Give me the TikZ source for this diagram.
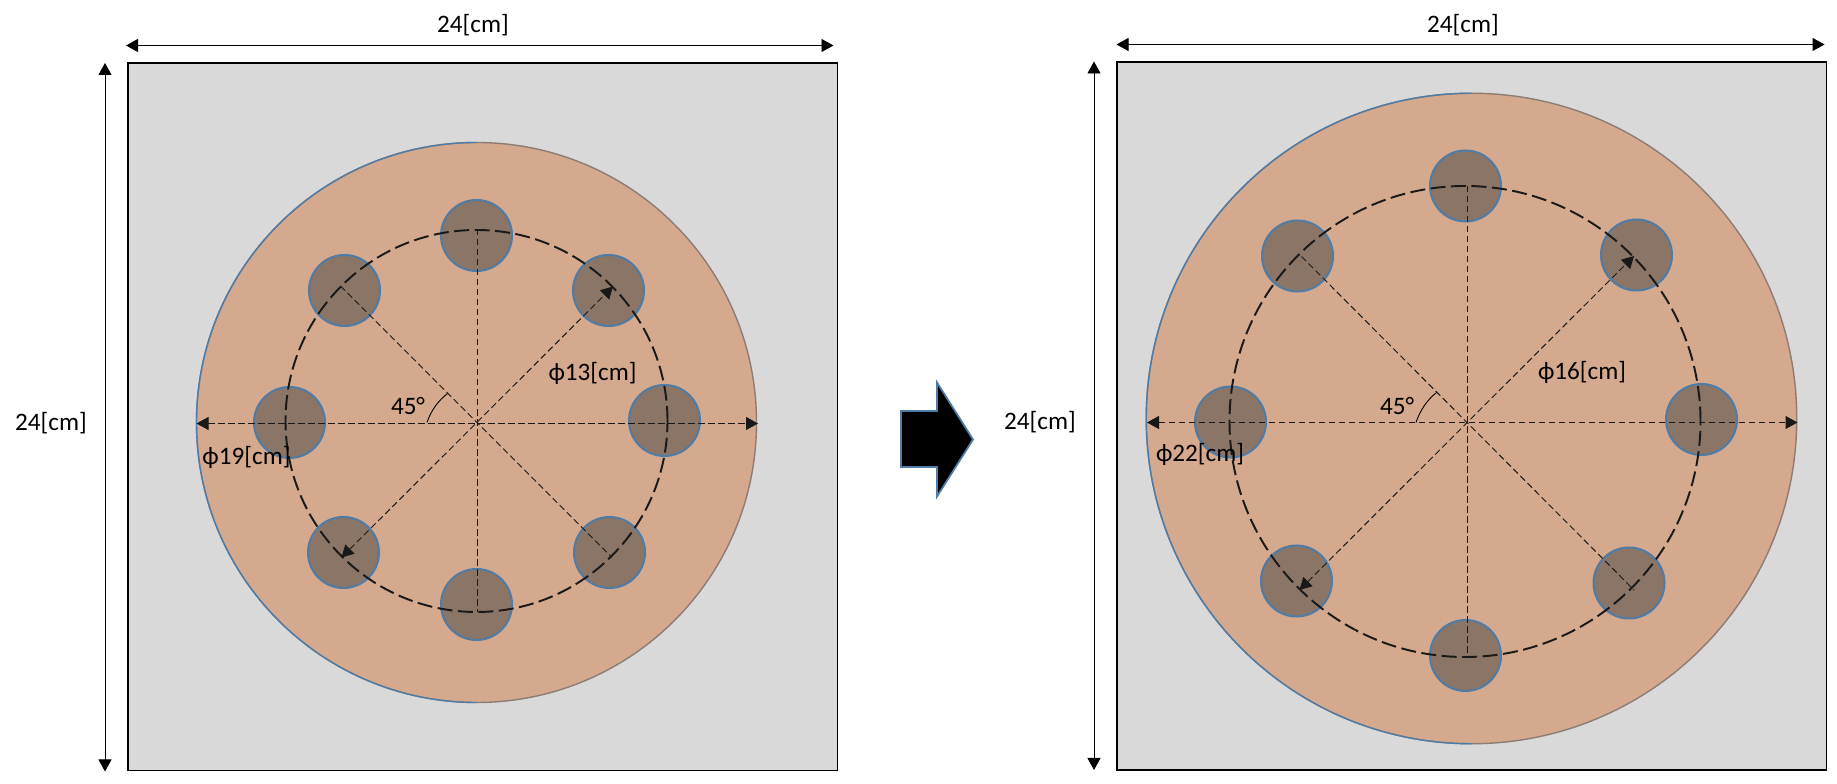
\documentclass[tikz,border=0pt]{standalone}
\usepackage{fontspec}
\setmainfont{Carlito}
\usetikzlibrary{arrows.meta}
\definecolor{platefill}{HTML}{D9D9D9}
\definecolor{discfill}{HTML}{D4A98D}
\definecolor{holefill}{HTML}{8A7566}
\definecolor{rimblue}{HTML}{4F7CA6}
\definecolor{rimgrey}{HTML}{8C7D74}
\tikzset{
	>={Triangle[length=0.24cm,width=0.26cm]},
	plate/.style={draw=black,fill=platefill,line width=1.1pt},
	disc/.style={circle,fill=discfill,draw=rimgrey,line width=0.8pt,inner sep=0pt,outer sep=0pt},
	hole/.style={circle,fill=holefill,draw=rimblue,line width=1.15pt,inner sep=0pt,outer sep=0pt,minimum size=1.42cm},
	rim/.style={draw=rimblue,line width=0.8pt},
	ring/.style={draw=black!90,line width=1.1pt,dash pattern=on 0.3cm off 0.11cm},
	centerline/.style={draw=black!90,line width=0.55pt,dash pattern=on 0.13cm off 0.07cm},
	dimline/.style={draw=black,line width=0.55pt,<->},
	dimlabel/.style={font=\fontsize{14.3}{17}\selectfont,inner sep=0pt,text=black,yshift=-0.04cm},
	blockarrow/.style={fill=black,draw=rimblue,line width=1pt,line join=miter}
}
\begin{document}
\begin{tikzpicture}
	\useasboundingbox (0,0) rectangle (36.74,15.68);
	\draw[plate] (2.56,0.27) rectangle (16.75,14.42);
	\node[disc,minimum size=11.2cm] (ldisc) at (9.53,7.23) {};
	\draw[rim] (ldisc.north) arc[start angle=90,end angle=270,radius=5.6];
	\node[hole] (lh1) at (9.53,10.97) {};
	\node[hole] (lh2) at (12.17,9.87) {};
	\node[hole] (lh3) at (13.29,7.27) {};
	\node[hole] (lh4) at (12.19,4.63) {};
	\node[hole] (lh5) at (9.53,3.59) {};
	\node[hole] (lh6) at (6.87,4.63) {};
	\node[hole] (lh7) at (5.79,7.23) {};
	\node[hole] (lh8) at (6.89,9.87) {};
	\draw[ring] (9.53,7.26) circle (3.82);
	\coordinate (lcen) at (9.55,7.21);
	\coordinate (lw) at (3.93,7.21);
	\coordinate (le) at (15.16,7.21);
	\coordinate (ln) at (9.55,11.10);
	\coordinate (ls) at (9.55,3.43);
	\coordinate (lne) at (12.26,9.95);
	\coordinate (lsw) at (6.83,4.53);
	\coordinate (lnw) at (6.81,9.96);
	\coordinate (lse) at (12.24,4.53);
	\draw[centerline,<->] (lw) -- (le);
	\draw[centerline,<->] (lsw) -- (lne);
	\draw[centerline] (ln) -- (ls);
	\draw[centerline] (lnw) -- (lse);
	\coordinate (la1) at (8.54,7.23);
	\coordinate (la2) at (8.95,7.81);
	\draw[black,line width=0.5pt] (la1) .. controls (8.62,7.47) and (8.76,7.66) .. (la2);
	\coordinate (ldt1) at (2.52,14.77);
	\coordinate (ldt2) at (16.67,14.77);
	\coordinate (ldl1) at (2.10,14.42);
	\coordinate (ldl2) at (2.10,0.25);
	\draw[dimline] (ldt1) -- (ldt2);
	\draw[dimline] (ldl1) -- (ldl2);
	\node[dimlabel] (ltop) at (9.46,15.21) {24[cm]};
	\node[dimlabel] (lleft) at (1.02,7.25) {24[cm]};
	\node[dimlabel] (lin) at (11.85,8.25) {ϕ13[cm]};
	\node[dimlabel] (lout) at (4.93,6.58) {ϕ19[cm]};
	\node[dimlabel] (lang) at (8.16,7.60) {45°};

	\draw[blockarrow] (18.02,7.46) -- (18.74,7.46) -- (18.74,8.03) -- (19.46,6.89) -- (18.74,5.75) -- (18.74,6.34) -- (18.02,6.34) -- cycle;

	\draw[plate] (22.34,0.28) rectangle (36.53,14.44);
	\node[disc,minimum size=13.01cm] (rdisc) at (29.43,7.31) {};
	\draw[rim] (rdisc.north) arc[start angle=90,end angle=270,radius=6.505];
	\node[hole] (rh1) at (29.31,11.96) {};
	\node[hole] (rh2) at (32.73,10.58) {};
	\node[hole] (rh3) at (34.03,7.29) {};
	\node[hole] (rh4) at (32.58,4.02) {};
	\node[hole] (rh5) at (29.31,2.57) {};
	\node[hole] (rh6) at (25.93,4.06) {};
	\node[hole] (rh7) at (24.61,7.24) {};
	\node[hole] (rh8) at (25.95,10.56) {};
	\draw[ring] (29.30,7.25) circle (4.71);
	\coordinate (rcen) at (29.34,7.23);
	\coordinate (rw) at (22.94,7.23);
	\coordinate (re) at (35.95,7.23);
	\coordinate (rn) at (29.34,11.96);
	\coordinate (rs) at (29.34,2.53);
	\coordinate (rne) at (32.68,10.56);
	\coordinate (rsw) at (25.99,3.88);
	\coordinate (rnw) at (26.03,10.55);
	\coordinate (rse) at (32.68,3.88);
	\draw[centerline,<->] (rw) -- (re);
	\draw[centerline,<->] (rsw) -- (rne);
	\draw[centerline] (rn) -- (rs);
	\draw[centerline] (rnw) -- (rse);
	\coordinate (ra1) at (28.32,7.23);
	\coordinate (ra2) at (28.73,7.83);
	\draw[black,line width=0.5pt] (ra1) .. controls (28.40,7.47) and (28.54,7.68) .. (ra2);
	\coordinate (rdt1) at (22.33,14.79);
	\coordinate (rdt2) at (36.49,14.79);
	\coordinate (rdl1) at (21.88,14.45);
	\coordinate (rdl2) at (21.88,0.28);
	\draw[dimline] (rdt1) -- (rdt2);
	\draw[dimline] (rdl1) -- (rdl2);
	\node[dimlabel] (rtop) at (29.26,15.21) {24[cm]};
	\node[dimlabel] (rleft) at (20.80,7.27) {24[cm]};
	\node[dimlabel] (rin) at (31.64,8.27) {ϕ16[cm]};
	\node[dimlabel] (rout) at (24.00,6.64) {ϕ22[cm]};
	\node[dimlabel] (rang) at (27.94,7.59) {45°};
\end{tikzpicture}
\end{document}
